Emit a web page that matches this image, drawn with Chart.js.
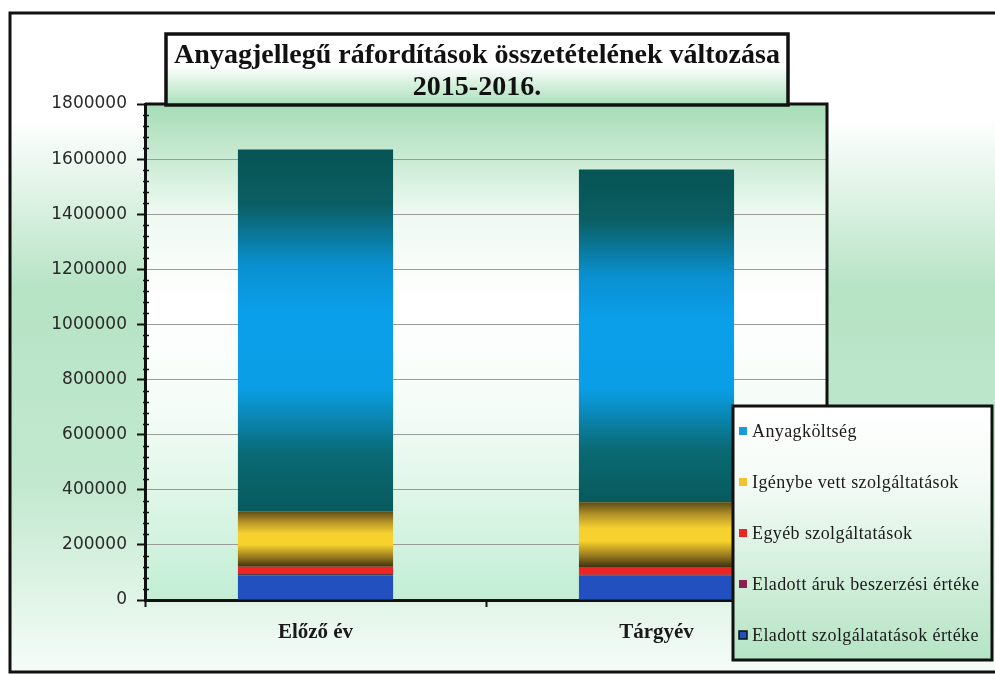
<!DOCTYPE html>
<html>
<head>
<meta charset="utf-8">
<script src="https://cdn.jsdelivr.net/npm/chart.js@4/dist/chart.umd.min.js"></script>
<style>
  body { margin: 0; background: #fff; }
  #wrap { width: 995px; height: 674px; }
</style>
</head>
<body>
<div id="wrap"><canvas id="costs" width="995" height="674"></canvas></div>
<script>
// ============================================================= data
let categories = ["Előző év", "Tárgyév"];

let eladottSzolg = [90000, 89000];     // Eladott szolgálatatások értéke
let eladottAruk = [3000, 3000];        // Eladott áruk beszerzési értéke
let egyebSzolg = [28000, 28000];       // Egyéb szolgáltatások
let igenybeVett = [201000, 235000];    // Igénybe vett szolgáltatások
let anyagKoltseg = [1313000, 1207000]; // Anyagköltség

let yTicks = [0, 200000, 400000, 600000, 800000, 1000000, 1200000, 1400000, 1600000, 1800000];

let titleLines = ["Anyagjellegű ráfordítások összetételének változása", "2015-2016."];

// ============================================================= helpers
// vertical gradient over one stacked segment (Excel style dark-light-dark)
function segGradient(stops, fallback) {
  return function (ctx) {
    let chart = ctx.chart;
    if (!chart.chartArea || ctx.type !== "data") return fallback;
    let y = chart.scales.y;
    let base = 0;
    for (let d = 0; d < ctx.datasetIndex; d++) {
      base += chart.data.datasets[d].data[ctx.dataIndex];
    }
    let top = base + chart.data.datasets[ctx.datasetIndex].data[ctx.dataIndex];
    let y0 = y.getPixelForValue(top);
    let y1 = y.getPixelForValue(base);
    if (!isFinite(y0) || !isFinite(y1) || y0 === y1) return fallback;
    let g = chart.ctx.createLinearGradient(0, y0, 0, y1);
    stops.forEach(s => g.addColorStop(s[0], s[1]));
    return g;
  };
}

let tealStops = [[0, "#075454"], [0.15, "#0a5e62"], [0.32, "#0a90d0"], [0.45, "#0a9fea"],
                 [0.66, "#0a9ee6"], [0.84, "#0a6a74"], [1, "#075a5c"]];
let yellowStops = [[0, "#5c4a14"], [0.2, "#b89628"], [0.4, "#f6d030"], [0.6, "#f8d22c"],
                   [0.82, "#9a7c20"], [1, "#3e3210"]];

// ============================================================= decoration plugin
let decor = {
  id: "decor",
  beforeDraw(chart) {
    let c = chart.ctx;
    let a = chart.chartArea;
    c.save();
    // outer background
    let g = c.createLinearGradient(0, 13, 0, 672);
    g.addColorStop(0, "#ffffff");
    g.addColorStop(0.16, "#ffffff");
    g.addColorStop(0.42, "#b6e3c4");
    g.addColorStop(0.72, "#c2e9cf");
    g.addColorStop(1, "#f6fcf8");
    c.fillStyle = g;
    c.fillRect(10, 13, 990, 659);
    // plot area background
    let p = c.createLinearGradient(0, a.top, 0, a.bottom);
    p.addColorStop(0, "#a6dcb6");
    p.addColorStop(0.22, "#eef9f1");
    p.addColorStop(0.4, "#ffffff");
    p.addColorStop(0.62, "#f4fcf7");
    p.addColorStop(1, "#c2eed4");
    c.fillStyle = p;
    c.fillRect(a.left, a.top, a.right - a.left, a.bottom - a.top);
    c.restore();
  },
  afterDraw(chart) {
    let c = chart.ctx;
    let a = chart.chartArea;
    let y = chart.scales.y;
    c.save();
    // outer frame
    c.strokeStyle = "#111";
    c.lineWidth = 3;
    c.strokeRect(10, 13, 995, 659);
    // plot frame
    c.lineWidth = 3;
    c.beginPath();
    c.moveTo(a.left, a.top);
    c.lineTo(a.right, a.top);
    c.lineTo(a.right, a.bottom);
    c.stroke();
    // minor ticks on the value axis
    c.lineWidth = 1.5;
    c.beginPath();
    for (let v = 0; v < 1800000; v += 40000) {
      if (v % 200000 === 0) continue;
      let py = Math.round(y.getPixelForValue(v)) + 0.5;
      c.moveTo(a.left - 2, py);
      c.lineTo(a.left + 4, py);
    }
    c.stroke();

    // title box
    let tb = { x: 166, y: 34, w: 622, h: 71 };
    let tg = c.createLinearGradient(0, tb.y, 0, tb.y + tb.h);
    tg.addColorStop(0, "#ffffff");
    tg.addColorStop(0.45, "#ffffff");
    tg.addColorStop(1, "#a9dfb9");
    c.fillStyle = tg;
    c.fillRect(tb.x, tb.y, tb.w, tb.h);
    c.lineWidth = 3.5;
    c.strokeStyle = "#111";
    c.strokeRect(tb.x, tb.y, tb.w, tb.h);
    c.fillStyle = "#111";
    c.textAlign = "center";
    c.textBaseline = "middle";
    c.font = "bold 28px 'Liberation Serif'";
    c.fillText(titleLines[0], tb.x + tb.w / 2, 56, 612);
    c.fillText(titleLines[1], tb.x + tb.w / 2, 88);

    // legend box
    let lb = { x: 733, y: 406, w: 259, h: 254 };
    let lg = c.createLinearGradient(0, lb.y, 0, lb.y + lb.h);
    lg.addColorStop(0, "#ffffff");
    lg.addColorStop(0.3, "#f4fbf6");
    lg.addColorStop(1, "#b4e4c4");
    c.fillStyle = lg;
    c.fillRect(lb.x, lb.y, lb.w, lb.h);
    c.lineWidth = 3;
    c.strokeStyle = "#111";
    c.strokeRect(lb.x, lb.y, lb.w, lb.h);
    let sets = chart.data.datasets.slice().reverse();
    c.textAlign = "left";
    c.font = "18px 'Liberation Serif'";
    c.letterSpacing = "0.4px";
    sets.forEach((ds, i) => {
      let cy = 431 + i * 51;
      c.fillStyle = ds.legendColor;
      c.fillRect(739, cy - 4, 8, 8);
      if (ds.legendBorder) {
        c.lineWidth = 1.5;
        c.strokeStyle = ds.legendBorder;
        c.strokeRect(739, cy - 4, 8, 8);
      }
      c.fillStyle = "#1a1a1a";
      c.fillText(ds.label, 752, cy + 1, 236);
    });
    c.restore();
  }
};

// ============================================================= bar chart
let costs = document.getElementById("costs");

let costsX = {
  labels: categories,
  datasets: [
    {
      label: "Eladott szolgálatatások értéke",
      data: eladottSzolg,
      backgroundColor: "#2350bf",
      legendColor: "#2350bf",
      legendBorder: "#111"
    },
    {
      label: "Eladott áruk beszerzési értéke",
      data: eladottAruk,
      backgroundColor: "#2a1020",
      legendColor: "#8a2050"
    },
    {
      label: "Egyéb szolgáltatások",
      data: egyebSzolg,
      backgroundColor: "#ee2424",
      legendColor: "#ee2424"
    },
    {
      label: "Igénybe vett szolgáltatások",
      data: igenybeVett,
      backgroundColor: segGradient(yellowStops, "#f6d030"),
      legendColor: "#f2c232"
    },
    {
      label: "Anyagköltség",
      data: anyagKoltseg,
      backgroundColor: segGradient(tealStops, "#0aa0ea"),
      legendColor: "#1a9ad8"
    }
  ]
};

let costsY = {
  responsive: false,
  animation: false,
  layout: {
    padding: { top: 104, right: 168, left: 0, bottom: 0 }
  },
  datasets: {
    bar: {
      categoryPercentage: 1,
      barPercentage: 0.455,
      borderWidth: 0
    }
  },
  plugins: {
    legend: { display: false },
    title: { display: false },
    tooltip: { enabled: false }
  },
  scales: {
    x: {
      stacked: true,
      afterFit: s => { s.height = 74; },
      grid: {
        drawOnChartArea: false,
        drawTicks: true,
        tickLength: 7,
        tickWidth: 2,
        tickColor: "#111",
        offset: true
      },
      border: { color: "#111", width: 3 },
      ticks: {
        color: "#1a1a1a",
        padding: 13,
        font: { family: "'Liberation Serif'", size: 21, weight: "bold" }
      }
    },
    y: {
      stacked: true,
      min: 0,
      max: 1800000,
      afterFit: s => { s.width = 145; },
      afterBuildTicks: s => { s.ticks = yTicks.map(v => ({ value: v })); },
      grid: {
        color: "#9a9a9a",
        lineWidth: 1,
        drawTicks: true,
        tickLength: 8,
        tickColor: "#111",
        tickWidth: 2
      },
      border: { color: "#111", width: 3 },
      ticks: {
        color: "#2a2a2a",
        padding: 10,
        font: { family: "'DejaVu Sans'", size: 17 },
        callback: v => String(v)
      }
    }
  }
};

// EXECUTE GRAPH
let costsChart = new Chart(costs, {
  type: "bar",
  data: costsX,
  options: costsY,
  plugins: [decor]
});
</script>
</body>
</html>
